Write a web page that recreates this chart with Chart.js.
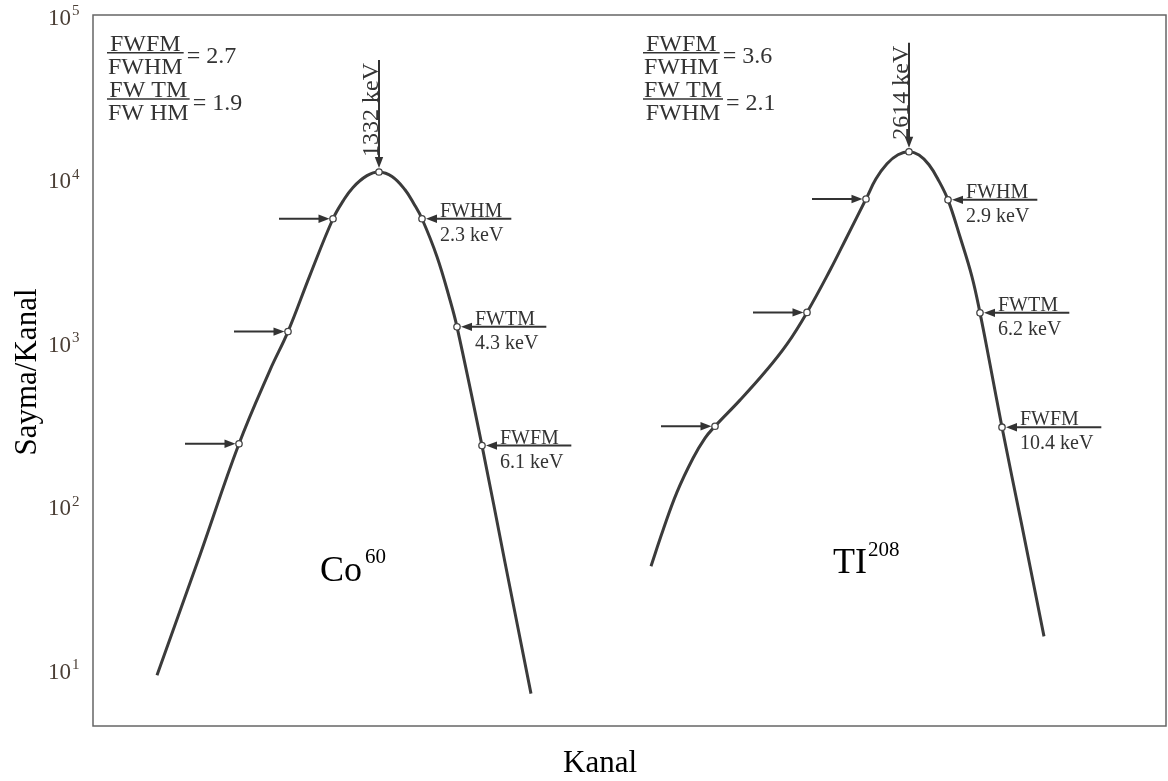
<!DOCTYPE html>
<html>
<head>
<meta charset="utf-8">
<script src="https://cdn.jsdelivr.net/npm/chart.js@4.4.0/dist/chart.umd.min.js"></script>
<style>
    html, body { margin: 0; padding: 0; background: #fff; }
</style>
</head>
<body>
<canvas id="spektrum" width="1168" height="781"></canvas>
<script>
// Co-60 tepe eğrisi (kanal, sayma/kanal)
const coKanal = [64, 107, 146, 177, 195, 217, 240, 250, 260, 274, 286, 299, 312, 321, 329, 344, 357, 364, 389, 412, 438];
const coSayma = [9.2, 50, 239, 675, 1160, 2570, 5680, 7280, 8830, 10420, 10970, 10300, 8550, 7000, 5680, 3330, 1810, 1240, 233, 45, 7.1];
// işaretli noktalar: FWFM sol, FWTM sol, FWHM sol, tepe, FWHM sağ, FWTM sağ, FWFM sağ
const coIsaret = [2, 4, 6, 10, 14, 17, 18];

// Tl-208 tepe eğrisi
const tiKanal = [558, 570, 584, 600, 612, 622, 647, 672, 694, 714, 737, 754, 773, 783, 794, 805, 816, 826, 836, 846, 855, 867, 879, 887, 897, 909, 929, 951];
const tiSayma = [42.7, 70.8, 121, 195, 259, 306, 442, 656, 972, 1520, 2750, 4410, 7500, 9960, 12320, 13980, 14590, 13930, 12150, 9650, 7410, 4410, 2510, 1510, 733, 302, 75, 15.9];
const tiIsaret = [5, 9, 12, 16, 20, 23, 25];

// etiketler
const genislikAdlari = ['FWHM', 'FWTM', 'FWFM'];
const coGenislik = ['2.3 keV', '4.3 keV', '6.1 keV'];
const tiGenislik = ['2.9 keV', '6.2 keV', '10.4 keV'];
const tepeEnerjileri = ['1332 keV', '2614 keV'];
const coOranlar = [['FWFM', 'FWHM', '2.7'], ['FW TM', 'FW HM', '1.9']];
const tiOranlar = [['FWFM', 'FWHM', '3.6'], ['FW TM', 'FWHM', '2.1']];
const yTikleri = [10, 100, 1000, 10000, 100000];
const yUstler = ['1', '2', '3', '4', '5'];

const SERIF = '"Liberation Serif", "Times New Roman", serif';
const YAZI = '#333';

function veriSeti(kanal, sayma, isaret) {
    return {
        data: kanal.map((k, i) => ({ x: k, y: sayma[i] })),
        borderColor: '#3b3b3b',
        borderWidth: 3,
        tension: 0.4,
        pointRadius: c => isaret.includes(c.dataIndex) ? 3.2 : 0,
        pointHoverRadius: 0,
        pointBackgroundColor: '#fff',
        pointBorderColor: '#444',
        pointBorderWidth: 1.3,
        fill: false
    };
}

// ok çizimi (x0,y0) -> (x1,y1), uç (x1,y1)'de
function ok(ctx, x0, y0, x1, y1) {
    const aci = Math.atan2(y1 - y0, x1 - x0);
    const boy = 11, gen = 4.2;
    ctx.strokeStyle = '#333';
    ctx.fillStyle = '#333';
    ctx.lineWidth = 2;
    ctx.beginPath();
    ctx.moveTo(x0, y0);
    ctx.lineTo(x1 - Math.cos(aci) * boy * 0.8, y1 - Math.sin(aci) * boy * 0.8);
    ctx.stroke();
    ctx.beginPath();
    ctx.moveTo(x1, y1);
    ctx.lineTo(x1 - Math.cos(aci) * boy - Math.sin(aci) * gen, y1 - Math.sin(aci) * boy + Math.cos(aci) * gen);
    ctx.lineTo(x1 - Math.cos(aci) * boy + Math.sin(aci) * gen, y1 - Math.sin(aci) * boy - Math.cos(aci) * gen);
    ctx.closePath();
    ctx.fill();
}

// kesirli oran: pay / payda = değer
function kesir(ctx, x0, cizgiY, pay, payda, deger) {
    ctx.font = '24px ' + SERIF;
    ctx.fillStyle = YAZI;
    const g = Math.max(ctx.measureText(pay).width, ctx.measureText(payda).width) + 2;
    ctx.textAlign = 'center';
    ctx.textBaseline = 'alphabetic';
    ctx.fillText(pay, x0 + g / 2, cizgiY - 2);
    ctx.fillText(payda, x0 + g / 2, cizgiY + 21);
    ctx.strokeStyle = YAZI;
    ctx.lineWidth = 1.6;
    ctx.beginPath();
    ctx.moveTo(x0, cizgiY);
    ctx.lineTo(x0 + g, cizgiY);
    ctx.stroke();
    ctx.textAlign = 'left';
    ctx.fillText('= ' + deger, x0 + g + 3, cizgiY + 10.5);
}

function tepeEtiketleri(ctx, meta, isaret, genislik, enerji, tepeBosluk) {
    const p = i => meta.data[isaret[i]];
    // sol oklar
    for (let i = 0; i < 3; i++) {
        const n = p(i);
        ok(ctx, n.x - 54, n.y, n.x - 3.5, n.y);
    }
    // sağ oklar ve yazılar
    ctx.font = '20px ' + SERIF;
    for (let i = 0; i < 3; i++) {
        const n = p(4 + i);
        const tx = n.x + 18;
        const w = Math.max(ctx.measureText(genislikAdlari[i]).width, ctx.measureText(genislik[i]).width);
        ok(ctx, tx + w + 8, n.y, n.x + 4, n.y);
        ctx.fillStyle = YAZI;
        ctx.textAlign = 'left';
        ctx.textBaseline = 'alphabetic';
        ctx.fillText(genislikAdlari[i], tx, n.y - 2);
        ctx.fillText(genislik[i], tx, n.y + 22);
    }
    // tepe enerjisi, dikey yazı ve aşağı ok
    const t = p(3);
    ctx.font = '24px ' + SERIF;
    const tw = ctx.measureText(enerji).width;
    const alt = t.y - tepeBosluk;
    ok(ctx, t.x, alt - tw - 3, t.x, t.y - 4);
    ctx.save();
    ctx.translate(t.x - 1.5, alt);
    ctx.rotate(-Math.PI / 2);
    ctx.fillStyle = YAZI;
    ctx.textAlign = 'left';
    ctx.textBaseline = 'alphabetic';
    ctx.fillText(enerji, 0, 0);
    ctx.restore();
}

const cizimler = {
    id: 'cizimler',
    afterDraw(chart) {
        const { ctx, chartArea: a, scales: { y } } = chart;
        ctx.save();

        // çerçeve
        ctx.strokeStyle = '#666';
        ctx.lineWidth = 1.5;
        ctx.strokeRect(a.left, a.top, a.right - a.left, a.bottom - a.top);

        // y ekseni etiketleri 10^n
        ctx.fillStyle = '#4a3e35';
        ctx.textBaseline = 'alphabetic';
        yTikleri.forEach((v, i) => {
            const py = y.getPixelForValue(v);
            ctx.font = '23px ' + SERIF;
            ctx.textAlign = 'right';
            ctx.fillText('10', a.left - 22, py + 9.5);
            ctx.font = '15px ' + SERIF;
            ctx.textAlign = 'left';
            ctx.fillText(yUstler[i], a.left - 21, py);
        });

        // eksen başlıkları
        ctx.fillStyle = '#000';
        ctx.font = '31px ' + SERIF;
        ctx.textAlign = 'center';
        ctx.textBaseline = 'middle';
        ctx.fillText('Kanal', 600, 764);
        ctx.save();
        ctx.translate(28, 372);
        ctx.rotate(-Math.PI / 2);
        ctx.fillText('Sayma/Kanal', 0, 0);
        ctx.restore();

        // oranlar
        kesir(ctx, a.left + 14, 52.7, coOranlar[0][0], coOranlar[0][1], coOranlar[0][2]);
        kesir(ctx, a.left + 14, 99, coOranlar[1][0], coOranlar[1][1], coOranlar[1][2]);
        kesir(ctx, a.left + 550, 52.7, tiOranlar[0][0], tiOranlar[0][1], tiOranlar[0][2]);
        kesir(ctx, a.left + 550, 99, tiOranlar[1][0], tiOranlar[1][1], tiOranlar[1][2]);

        // oklar ve genişlik yazıları
        tepeEtiketleri(ctx, chart.getDatasetMeta(0), coIsaret, coGenislik, tepeEnerjileri[0], 15);
        tepeEtiketleri(ctx, chart.getDatasetMeta(1), tiIsaret, tiGenislik, tepeEnerjileri[1], 12);

        // izotop adları
        ctx.fillStyle = '#000';
        ctx.textAlign = 'left';
        ctx.textBaseline = 'alphabetic';
        ctx.font = '36px ' + SERIF;
        ctx.fillText('Co', 320, 581);
        ctx.fillText('TI', 833, 573);
        ctx.font = '21px ' + SERIF;
        ctx.fillText('60', 365, 563);
        ctx.fillText('208', 868, 556);

        ctx.restore();
    }
};

new Chart(document.getElementById('spektrum'), {
    type: 'line',
    data: {
        datasets: [
            veriSeti(coKanal, coSayma, coIsaret),
            veriSeti(tiKanal, tiSayma, tiIsaret)
        ]
    },
    options: {
        responsive: false,
        animation: false,
        layout: { padding: { left: 93, top: 15, right: 2, bottom: 55 } },
        plugins: { legend: { display: false }, tooltip: { enabled: false } },
        scales: {
            x: { type: 'linear', min: 0, max: 1073, display: false },
            y: { type: 'logarithmic', min: 4.5, max: 100000, display: false }
        }
    },
    plugins: [cizimler]
});
</script>
</body>
</html>
